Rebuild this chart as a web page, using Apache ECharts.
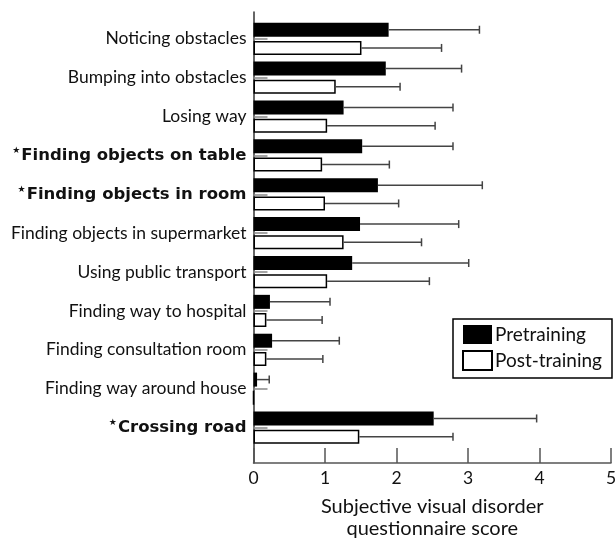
<!DOCTYPE html>
<html>
<head>
<meta charset="utf-8">
<script src="https://cdn.jsdelivr.net/npm/echarts@6/dist/echarts.min.js"></script>
<style>
  html, body { margin: 0; padding: 0; background: #fff; }
  #chart { width: 615px; height: 538px; }
</style>
</head>
<body>
<div id="chart"></div>
<script>
// Questionnaire items, top to bottom
const categories = [
  'Noticing obstacles',
  'Bumping into obstacles',
  'Losing way',
  'Finding objects on table',
  'Finding objects in room',
  'Finding objects in supermarket',
  'Using public transport',
  'Finding way to hospital',
  'Finding consultation room',
  'Finding way around house',
  'Crossing road'
];
// Items with a significant change (marked with a star, set in bold)
const significant = [false, false, false, true, true, false, false, false, false, false, true];

// Mean scores and standard deviations
const preMean  = [1.89, 1.85, 1.26, 1.52, 1.74, 1.49, 1.38, 0.23, 0.26, 0.05, 2.52];
const preSD    = [1.27, 1.06, 1.53, 1.27, 1.46, 1.38, 1.63, 0.84, 0.94, 0.17, 1.44];
const postMean = [1.51, 1.15, 1.03, 0.96, 1.00, 1.26, 1.03, 0.18, 0.18, 0.00, 1.48];
const postSD   = [1.12, 0.90, 1.51, 0.94, 1.03, 1.09, 1.43, 0.78, 0.79, 0.00, 1.31];

const xTicks = [0, 1, 2, 3, 4, 5];
const seriesNames = ['Pretraining', 'Post-training'];

const FONT = 'Lato';
const BOLD_FONT = 'DejaVu Sans';
const BAR_W = 14;
const BAR_GAP = 0.3;   // fraction of bar width
const CAP = 8;

const chart = echarts.init(document.getElementById('chart'), null, { renderer: 'canvas' });

// error bar series: data rows are [mean, mean + sd, categoryIndex]
function errorSeries(means, sds, side) {
  const data = means.map((m, i) => [m, m + sds[i], i]);
  return {
    type: 'custom',
    xAxisIndex: 1,
    yAxisIndex: 1,
    silent: true,
    z: 3,
    encode: { x: [0, 1], y: 2 },
    data: data,
    renderItem: function (params, api) {
      const m = api.value(0), e = api.value(1), c = api.value(2);
      if (e - m <= 0) return null;
      const offset = side * (BAR_W * (1 + BAR_GAP)) / 2;
      const a = api.coord([m, c]);
      const b = api.coord([e, c]);
      const y = a[1] + offset;
      const style = { stroke: '#444', lineWidth: 1.5 };
      return {
        type: 'group',
        children: [
          { type: 'line', shape: { x1: a[0], y1: y, x2: b[0], y2: y }, style: style },
          { type: 'line', shape: { x1: b[0], y1: y - CAP / 2, x2: b[0], y2: y + CAP / 2 }, style: style }
        ]
      };
    }
  };
}

const option = {
  animation: false,
  backgroundColor: '#fff',
  textStyle: { fontFamily: FONT, color: '#111' },
  grid: [
    // frame: carries the visible axes
    { left: 253.5, right: 4, top: 12, bottom: 75, outerBoundsMode: 'none', containLabel: false },
    // bars
    { left: 253.5, right: 4, top: 19.4, bottom: 91, outerBoundsMode: 'none', containLabel: false }
  ],
  legend: {
    data: seriesNames,
    orient: 'vertical',
    left: 453,
    top: 319,
    itemWidth: 29,
    itemHeight: 19,
    itemGap: 6,
    padding: [6, 10, 7, 9],
    borderColor: '#000',
    borderWidth: 1.5,
    icon: 'rect',
    textStyle: { fontFamily: FONT, fontSize: 19, color: '#111', padding: [0, 0, 0, -2] }
  },
  xAxis: [
    {
      type: 'value',
      gridIndex: 0,
      min: xTicks[0],
      max: xTicks[xTicks.length - 1],
      interval: 1,
      splitLine: { show: false },
      axisLine: { show: true, lineStyle: { color: '#555', width: 1.5 } },
      axisTick: { show: true, inside: true, length: 15, lineStyle: { color: '#555', width: 1.5 } },
      axisLabel: { fontFamily: FONT, fontSize: 17.5, color: '#111', margin: 6 },
      name: 'Subjective visual disorder\nquestionnaire score',
      nameLocation: 'middle',
      nameGap: 33,
      nameTextStyle: { fontFamily: FONT, fontSize: 20, color: '#111', lineHeight: 22, verticalAlign: 'top' }
    },
    {
      type: 'value',
      gridIndex: 1,
      min: xTicks[0],
      max: xTicks[xTicks.length - 1],
      show: false
    }
  ],
  yAxis: [
    {
      type: 'value',
      gridIndex: 0,
      min: 0,
      max: 1,
      axisLine: { show: true, lineStyle: { color: '#333', width: 1.5 } },
      axisTick: { show: false },
      axisLabel: { show: false },
      splitLine: { show: false }
    },
    {
      type: 'category',
      gridIndex: 1,
      inverse: true,
      data: categories,
      axisLine: { show: false },
      axisTick: { show: true, inside: true, alignWithLabel: true, length: 14, lineStyle: { color: '#888', width: 1.5 } },
      axisLabel: {
        margin: 7,
        fontFamily: FONT,
        fontSize: 17.5,
        color: '#111',
        formatter: function (value, idx) {
          return significant[idx] ? '{star|★}{b|' + value + '}' : value;
        },
        rich: {
          star: { fontFamily: 'DejaVu Sans', fontSize: 9, color: '#111', verticalAlign: 'top', lineHeight: 18, padding: [0, 1, 0, 0] },
          b: { fontFamily: BOLD_FONT, fontSize: 16.5, fontWeight: 'bold', color: '#111', lineHeight: 18 }
        }
      }
    }
  ],
  series: [
    {
      name: seriesNames[0],
      type: 'bar',
      xAxisIndex: 1,
      yAxisIndex: 1,
      barWidth: BAR_W,
      barGap: (BAR_GAP * 100) + '%',
      itemStyle: { color: '#000', borderColor: '#000', borderWidth: 0 },
      data: preMean
    },
    {
      name: seriesNames[1],
      type: 'bar',
      xAxisIndex: 1,
      yAxisIndex: 1,
      barWidth: BAR_W,
      barGap: (BAR_GAP * 100) + '%',
      itemStyle: { color: '#fff', borderColor: '#000', borderWidth: 1.5 },
      data: postMean
    },
    errorSeries(preMean, preSD, -1),
    errorSeries(postMean, postSD, 1)
  ]
};

chart.setOption(option);
</script>
</body>
</html>
